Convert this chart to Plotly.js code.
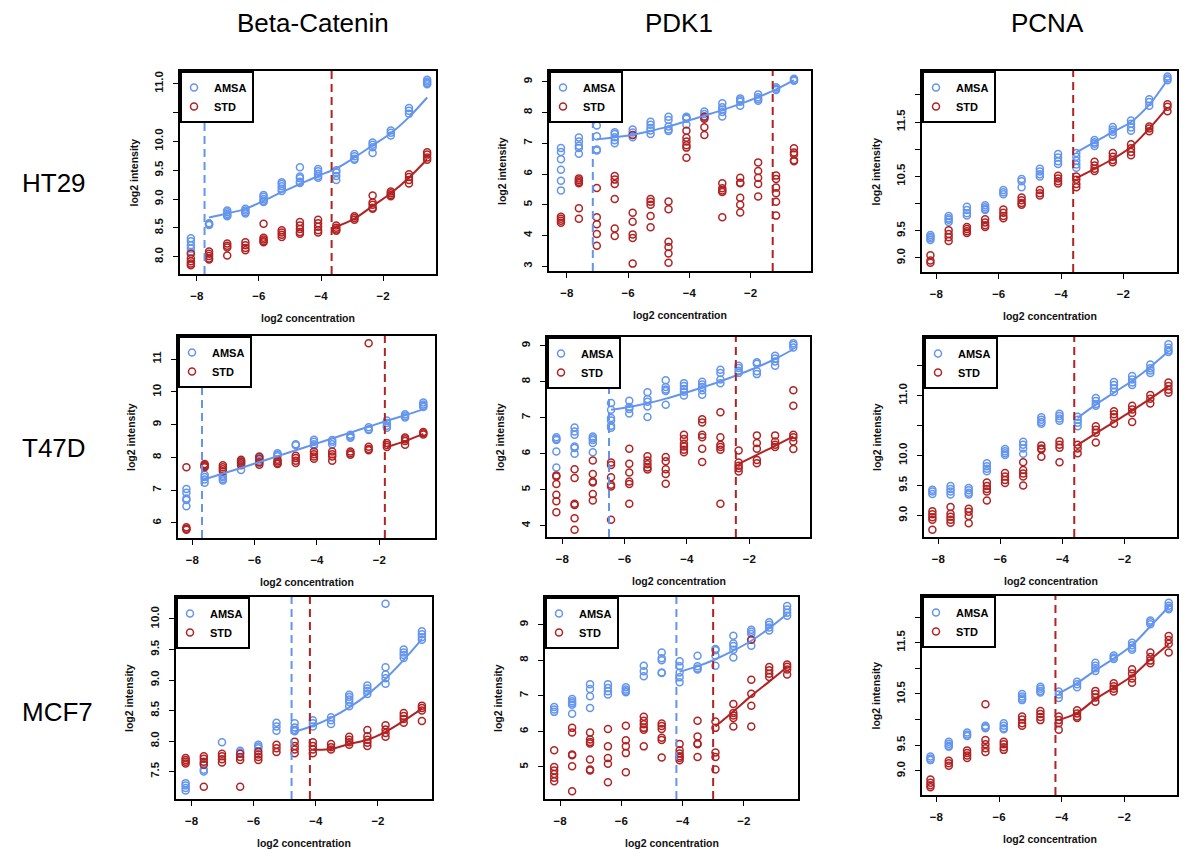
<!DOCTYPE html>
<html>
<head>
<meta charset="utf-8">
<script src="https://cdn.plot.ly/plotly-3.0.1.min.js"></script>
<style>html,body{margin:0;padding:0;background:#fff;}#chart{width:1200px;height:849px;}</style>
</head>
<body>
<div id="chart"></div>
<script>
// ---------------- DATA ----------------
const conc = [-8.19,-7.605,-7.02,-6.435,-5.85,-5.265,-4.68,-4.095,-3.51,-2.925,-2.34,-1.755,-1.17,-0.585];
const columnTitles = ["Beta-Catenin","PDK1","PCNA"];
const rowLabels = ["HT29","T47D","MCF7"];
const seriesNames = ["AMSA","STD"];
const xTickVals = [-8,-6,-4,-2];

// Beta-Catenin / HT29
const bc_ht29_amsa = [[8.32,8.27,8.2,8.14,8.08],[8.55,8.57,8.58,8.56],[8.80,8.77,8.74,8.72,8.70],[8.83,8.80,8.77,8.75],[9.07,9.04,9.00,8.97,8.95],[9.29,9.26,9.22,9.18,9.14],[9.55,9.39,9.36,9.30,9.28],[9.52,9.48,9.44,9.40,9.37],[9.50,9.46,9.40,9.33],[9.78,9.74,9.70,9.68],[9.98,9.94,9.90,9.80],[10.19,10.15,10.10],[10.58,10.53,10.48],[11.07,11.04,11.01,10.99]];
const bc_ht29_std = [[8.05,7.97,7.92,7.88,7.85],[8.09,8.05,8.01,7.97,7.95],[8.23,8.19,8.16,8.02],[8.25,8.20,8.15,8.11],[8.57,8.33,8.30,8.27,8.25],[8.46,8.42,8.38,8.34],[8.60,8.54,8.48,8.43,8.40],[8.64,8.58,8.52,8.46,8.42],[8.54,8.50,8.47,8.45],[8.70,8.67,8.64],[9.06,8.94,8.90,8.85,8.83],[9.13,9.10,9.07,9.05],[9.43,9.38,9.33,9.27],[9.81,9.77,9.72,9.68]];
const bc_ht29_fit_amsa = [8.68,8.75,8.83,8.97,9.12,9.26,9.40,9.53,9.72,9.93,10.14,10.42,10.76];
const bc_ht29_fit_std = [8.52,8.66,8.88,9.10,9.37,9.69];

// PDK1 / HT29
const pdk_ht29_amsa = [[6.85,6.72,6.48,6.14,5.78,5.47],[7.19,7.06,6.92,6.85,6.66],[7.58,7.23,6.80,6.77],[7.36,7.30,7.20,7.10,7.00],[7.45,7.35,7.27,7.20],[7.70,7.60,7.50,7.42,7.30],[7.86,7.76,7.55,7.45,7.40],[7.86,7.83,7.80,7.60],[8.03,7.95,7.88,7.82],[8.30,8.17,8.10,8.02,7.87],[8.46,8.40,8.35,8.22],[8.59,8.50,8.44,8.38],[8.82,8.77,8.73],[9.10,9.06,9.03]];
const pdk_ht29_std = [[4.61,4.55,4.48,4.42],[5.86,5.80,5.74,5.70,4.89,4.55],[5.55,4.60,4.37,4.05,3.67],[5.94,5.82,5.68,5.19,4.23,3.99],[7.27,4.74,4.45,4.04,3.92,3.09],[5.19,5.10,5.00,4.64,4.27],[5.11,4.86,3.80,3.63,3.42,3.12],[7.41,7.18,7.06,6.94,6.86,6.53],[7.86,7.80,7.52,7.27],[5.70,5.54,5.47,5.42,4.60],[5.88,5.72,5.70,5.23,5.00,4.75],[6.38,6.10,5.88,5.68,5.27],[5.95,5.84,5.56,5.38,5.10,4.65],[6.84,6.70,6.64,6.45,6.42]];
const pdk_ht29_fit_amsa = [7.13,7.20,7.28,7.40,7.55,7.72,7.90,8.08,8.28,8.50,8.75,9.05];
const pdk_ht29_fit_std = [];

// PCNA / HT29
const pcna_ht29_amsa = [[9.42,9.39,9.36,9.33],[9.77,9.73,9.70,9.66],[9.94,9.88,9.82,9.78],[9.97,9.93,9.90,9.88],[10.25,10.21,10.17],[10.45,10.41,10.30],[10.64,10.59,10.54,10.50],[10.91,10.85,10.78,10.73],[10.93,10.86,10.79,10.72,10.66],[11.17,11.13,11.10,11.06],[11.41,11.36,11.32,11.26],[11.53,11.47,11.40,11.34],[11.92,11.87,11.80],[12.34,12.30,12.27]];
const pcna_ht29_std = [[9.05,8.95,8.91],[9.51,9.44,9.38,9.31],[9.57,9.53,9.49,9.46],[9.71,9.65,9.60,9.57],[9.89,9.83,9.77,9.73],[10.11,10.06,10.01,9.98],[10.25,10.19,10.15],[10.51,10.46,10.41,10.37],[10.50,10.44,10.36,10.30],[10.77,10.70,10.64,10.60],[10.93,10.86,10.80,10.76],[11.09,11.02,10.95,10.89],[11.42,11.38,11.33],[11.83,11.78,11.70]];
const pcna_ht29_fit_amsa = [10.94,11.13,11.32,11.50,11.82,12.28];
const pcna_ht29_fit_std = [10.47,10.64,10.82,11.04,11.38,11.77];

// Beta-Catenin / T47D
const bc_t47d_amsa = [[7.04,6.92,6.75,6.70,6.51],[7.47,7.40,7.33,7.23],[7.44,7.40,7.34,7.30],[7.90,7.86,7.81,7.62],[8.03,7.98,7.90,7.84],[8.13,8.08,8.04],[8.40,8.37],[8.54,8.48,8.40,8.36],[8.53,8.48,8.40],[8.69,8.64,8.60],[8.92,8.86,8.84],[9.13,9.05,8.97,8.91],[9.32,9.27,9.22],[9.68,9.62,9.57,9.54]];
const bc_t47d_std = [[7.70,5.87,5.82,5.79],[7.80,7.76,7.73,7.70],[7.76,7.70,7.64,7.58],[7.93,7.88,7.82,7.76],[8.02,7.95,7.85,7.78],[7.93,7.88,7.82,7.80],[8.05,7.98,7.90,7.83],[8.18,8.10,8.03,7.96],[8.18,8.10,8.03,7.90],[8.18,8.13,8.08],[11.49,8.33,8.26,8.22],[8.44,8.38,8.32],[8.61,8.56,8.50,8.39],[8.78,8.74,8.70]];
const bc_t47d_fit_amsa = [7.33,7.51,7.68,7.86,8.04,8.22,8.40,8.58,8.76,8.94,9.12,9.29,9.47];
const bc_t47d_fit_std = [8.32,8.50,8.72];

// PDK1 / T47D
const pdk_t47d_amsa = [[6.46,6.41,6.38,6.06,5.62],[6.73,6.62,6.53,6.20,6.16,6.00],[6.48,6.43,6.38,6.30,6.04],[7.41,7.22,6.99,6.92,6.78,6.72],[7.47,7.30,7.24,7.12],[7.71,7.52,7.44,7.31,7.02],[8.04,7.85,7.78,7.74,7.36],[7.96,7.88,7.80,7.72,7.62],[8.00,7.92,7.85,7.76,7.64],[8.33,8.24,8.06,7.96],[8.44,8.38,8.30,8.24],[8.54,8.50,8.29,8.21],[8.72,8.64,8.56,8.44],[9.07,9.02,8.95]];
const pdk_t47d_std = [[5.40,5.37,5.16,4.86,4.68,4.38],[5.57,5.33,4.61,4.58,4.21,3.89],[5.81,5.44,5.23,5.20,4.88,4.70],[5.76,5.69,5.35,5.14,5.09,4.17],[6.14,5.72,5.48,5.23,5.16,4.61],[5.93,5.81,5.71,5.62,5.56],[5.91,5.79,5.57,5.44,5.17],[6.53,6.41,6.28,6.20,6.11,6.04],[6.96,6.87,6.53,6.46,6.14,5.77],[7.15,6.46,6.25,6.19,6.11,4.61],[6.09,5.76,5.67,5.60,5.51],[6.51,6.30,6.14,5.83,5.74],[6.51,6.34,6.25,6.19],[7.76,7.33,6.53,6.46,6.34,6.13]];
const pdk_t47d_fit_amsa = [7.22,7.30,7.40,7.53,7.68,7.84,8.01,8.20,8.40,8.63,8.90];
const pdk_t47d_fit_std = [5.72,5.97,6.22,6.48];

// PCNA / T47D
const pcna_t47d_amsa = [[9.43,9.40,9.36],[9.49,9.44,9.40,9.35],[9.46,9.42,9.38,9.35],[9.87,9.82,9.78,9.74],[10.11,10.07,10.04,10.01],[10.23,10.18,10.12,10.03],[10.64,10.60,10.56,10.53],[10.70,10.66,10.62,10.58],[10.65,10.60,10.55,10.49],[10.96,10.91,10.86,10.83],[11.23,11.18,11.12,11.06],[11.33,11.27,11.22,11.18],[11.52,11.46,11.42,11.38],[11.86,11.80,11.76,11.73]];
const pcna_t47d_std = [[9.07,9.02,8.97,8.93,8.76],[9.14,9.03,8.98,8.93,8.88],[9.11,9.06,8.99,8.87],[9.55,9.49,9.44,9.40,9.25],[9.71,9.65,9.59,9.54],[9.89,9.76,9.70,9.65,9.50],[10.17,10.12,10.10,9.98],[10.24,10.18,10.13,9.89],[10.18,10.12,10.04],[10.49,10.43,10.38,10.22],[10.74,10.69,10.64,10.53],[10.83,10.77,10.71,10.56],[11.01,10.95,10.87],[11.22,11.16,11.10,11.05]];
const pcna_t47d_fit_amsa = [10.63,10.85,11.05,11.25,11.48,11.74];
const pcna_t47d_fit_std = [10.18,10.37,10.56,10.75,10.95,11.16];

// Beta-Catenin / MCF7
const bc_mcf7_amsa = [[7.31,7.27,7.23,7.19],[7.63,7.53,7.50],[7.98],[7.84,7.81],[7.94,7.91,7.88],[8.30,8.24,8.17],[8.29,8.22,8.18,8.16],[8.34,8.29,8.24],[8.39,8.34,8.28],[8.76,8.72,8.68,8.64,8.57],[8.91,8.86,8.82,8.77],[10.25,9.21,9.09,9.03,8.94],[9.50,9.45,9.41,9.36],[9.80,9.75,9.70,9.66]];
const bc_mcf7_std = [[7.72,7.69,7.66,7.63],[7.75,7.71,7.66,7.61,7.25],[7.79,7.75,7.70,7.65],[7.79,7.74,7.69,7.25],[7.83,7.78,7.74,7.69],[7.94,7.88,7.82],[7.99,7.92,7.86,7.80],[7.98,7.92,7.86,7.80],[7.95,7.90,7.86],[8.07,8.02,7.98,7.94],[8.18,8.08,8.02,7.97,7.92],[8.26,8.19,8.13,8.07],[8.46,8.41,8.36,8.30],[8.58,8.54,8.50,8.33]];
const bc_mcf7_fit_amsa = [8.15,8.25,8.38,8.55,8.76,9.02,9.33,9.67];
const bc_mcf7_fit_std = [7.86,7.87,7.95,8.02,8.15,8.33,8.53];

// PDK1 / MCF7
const pdk_mcf7_amsa = [[6.69,6.62,6.55],[6.91,6.85,6.80,6.75,6.50],[7.33,7.19,6.99,6.66],[7.33,7.22,7.13,7.04],[7.24,7.18,7.13,7.10],[7.85,7.69,7.55],[8.22,8.06,8.00,7.66,7.64],[7.97,7.83,7.66,7.52,7.38],[8.13,7.83,7.77,7.74],[8.32,8.28,8.13,7.85],[8.69,8.47,8.40,8.30,8.08],[8.86,8.80,8.74,8.58,8.41],[9.07,9.00,8.92,8.84],[9.53,9.43,9.34,9.25]];
const pdk_mcf7_std = [[5.47,5.00,4.90,4.80,4.70,4.60],[6.10,5.97,5.35,5.33,5.02,4.32],[5.97,5.77,5.70,5.66,5.21,4.93,4.90],[6.07,5.58,5.25,5.09,4.57],[6.16,5.75,5.58,5.39,4.85],[6.41,6.30,6.20,6.10,6.05,5.58],[6.22,6.15,6.07,5.82,5.76,5.27],[5.65,5.47,5.38,5.30,5.25,5.19],[6.30,5.86,5.66,5.64,5.28],[6.28,6.10,5.41,5.28,4.93],[6.77,6.52,6.45,6.38,6.14],[8.58,7.45,7.06,6.72,6.14],[7.81,7.72,7.62,7.53],[7.88,7.82,7.74,7.60]];
const pdk_mcf7_fit_amsa = [7.68,7.83,8.03,8.27,8.55,8.90,9.30];
const pdk_mcf7_fit_std = [6.14,6.56,7.00,7.40,7.81];

// PCNA / MCF7
const pcna_mcf7_amsa = [[9.28,9.24,9.21],[9.57,9.53,9.49,9.47],[9.75,9.71,9.68],[9.88,9.85,9.83],[9.93,9.88,9.83,9.81],[10.50,10.45,10.41,10.38],[10.64,10.60,10.56,10.53],[10.55,10.49,10.42],[10.74,10.69,10.63],[11.11,11.05,11.00,10.95],[11.25,11.21,11.18],[11.50,11.45,11.40,11.36],[11.93,11.90,11.86],[12.28,12.22,12.18,12.15]];
const pcna_mcf7_std = [[8.83,8.77,8.72,8.68],[9.20,9.15,9.10],[9.40,9.35,9.30,9.25],[10.30,9.60,9.52,9.44,9.37],[9.57,9.52,9.46,9.41],[10.06,10.00,9.93,9.88],[10.17,10.11,10.05,9.99],[10.06,9.99,9.93,9.80],[10.18,10.12,10.06,10.03],[10.56,10.50,10.43,10.35],[10.71,10.65,10.60,10.55],[10.98,10.90,10.80,10.72],[11.31,11.22,11.15,11.10],[11.63,11.55,11.48,11.31]];
const pcna_mcf7_fit_amsa = [10.51,10.71,10.96,11.19,11.45,11.82,12.20];
const pcna_mcf7_fit_std = [9.99,10.13,10.40,10.62,10.85,11.17,11.47];

// cut-off concentrations (dashed lines), panel order row by row (null = not shown)
const threshold_amsa = [-7.75,-7.15,null,-7.69,-6.50,null,-4.78,-4.20,null];
const threshold_std  = [-3.66,-1.28,-3.61,-1.82,-2.43,-3.62,-4.19,-3.00,-4.20];

// y tick values / labels for each panel
const yTicks = [
  [[8,8.5,9,9.5,10,10.5,11],["8.0","8.5","9.0","9.5","10.0","","11.0"]],
  [[3,4,5,6,7,8,9],["3","4","5","6","7","8","9"]],
  [[9,9.5,10,10.5,11,11.5,12],["9.0","9.5","","10.5","","11.5",""]],
  [[6,7,8,9,10,11],["6","7","8","9","10","11"]],
  [[4,5,6,7,8,9],["4","5","6","7","8","9"]],
  [[9,9.5,10,10.5,11,11.5],["9.0","9.5","10.0","","11.0",""]],
  [[7.5,8,8.5,9,9.5,10],["7.5","8.0","8.5","9.0","9.5","10.0"]],
  [[5,6,7,8,9],["5","6","7","8","9"]],
  [[9,9.5,10,10.5,11,11.5,12],["9.0","9.5","","10.5","","11.5",""]]
];

// ---------------- LAYOUT / STYLE ----------------
const W = 1200, H = 849;
const BLUE = "#6495ED", RED = "#B22222";
const FONT = "Liberation Sans, Arial, Helvetica, sans-serif";
// pixel boxes of the plot areas [left, right, top, bottom]
const boxes = [[180,436,71,274],[549,811,71,271],[922,1177,71,272],
               [178,435,336,538],[547,810,337,537],[924,1177,337,537],
               [176,432,597,799],[545,798,597,799],[922,1177,596,795]];
const xRanges = [[-8.54,-0.30],[-8.58,-0.03],[-8.46,-0.28],[-8.46,-0.21],[-8.49,-0.05],[-8.46,-0.31],[-8.50,-0.26],[-8.49,-0.23],[-8.46,-0.32]];
const yRanges = [[7.70,11.22],[2.85,9.35],[8.74,12.44],[5.54,11.71],[3.69,9.24],[8.64,11.98],[7.05,10.36],[4.10,9.78],[8.53,12.41]];

const amsaSets = [bc_ht29_amsa,pdk_ht29_amsa,pcna_ht29_amsa,bc_t47d_amsa,pdk_t47d_amsa,pcna_t47d_amsa,bc_mcf7_amsa,pdk_mcf7_amsa,pcna_mcf7_amsa];
const stdSets  = [bc_ht29_std,pdk_ht29_std,pcna_ht29_std,bc_t47d_std,pdk_t47d_std,pcna_t47d_std,bc_mcf7_std,pdk_mcf7_std,pcna_mcf7_std];
const fitAmsaSets = [bc_ht29_fit_amsa,pdk_ht29_fit_amsa,pcna_ht29_fit_amsa,bc_t47d_fit_amsa,pdk_t47d_fit_amsa,pcna_t47d_fit_amsa,bc_mcf7_fit_amsa,pdk_mcf7_fit_amsa,pcna_mcf7_fit_amsa];
const fitStdSets  = [bc_ht29_fit_std,pdk_ht29_fit_std,pcna_ht29_fit_std,bc_t47d_fit_std,pdk_t47d_fit_std,pcna_t47d_fit_std,bc_mcf7_fit_std,pdk_mcf7_fit_std,pcna_mcf7_fit_std];

function flatten(groups){
  const xs=[], ys=[];
  groups.forEach((g,i)=>g.forEach(v=>{xs.push(conc[i]); ys.push(v);}));
  return {xs, ys};
}

const traces = [], shapes = [], annotations = [];
const layout = {
  width: W, height: H,
  margin: {l:0,r:0,t:0,b:0},
  paper_bgcolor: "#fff", plot_bgcolor: "#fff",
  font: {family: FONT, color: "#000"},
  showlegend: true
};

for (let i = 0; i < 9; i++) {
  const s = i === 0 ? "" : String(i+1);
  const [L,R,T,B] = boxes[i];
  const xa = "x"+s, ya = "y"+s;
  const legName = "legend"+s;
  const axCommon = {
    showgrid:false, zeroline:false, showline:true, mirror:true,
    linecolor:"#000", linewidth:2,
    ticks:"outside", ticklen:5, tickwidth:1, tickcolor:"#000",
    tickfont:{family:FONT, size:11.5, weight:"bold", color:"#111"},
    ticklabelstandoff:5, fixedrange:true
  };
  layout["xaxis"+s] = Object.assign({}, axCommon, {
    domain:[L/W, R/W], anchor:ya, range:xRanges[i],
    tickmode:"array", tickvals:xTickVals
  });
  layout["yaxis"+s] = Object.assign({}, axCommon, {
    domain:[1-B/H, 1-T/H], anchor:xa, range:yRanges[i],
    tickmode:"array", tickvals:yTicks[i][0], ticktext:yTicks[i][1], tickangle:-90
  });
  layout[legName] = {
    x:L/W, y:1-T/H, xanchor:"left", yanchor:"top",
    bgcolor:"#fff", bordercolor:"#000", borderwidth:2,
    font:{family:FONT, size:11, weight:"bold", color:"#000"},
    itemwidth:30, tracegroupgap:0, indentation:-8
  };

  const a = flatten(amsaSets[i]), b = flatten(stdSets[i]);
  traces.push({x:a.xs, y:a.ys, xaxis:xa, yaxis:ya, type:"scatter", mode:"markers", name:seriesNames[0], legend:legName,
    marker:{symbol:"circle-open", size:7, color:BLUE, line:{width:1.5, color:BLUE}}, hoverinfo:"skip"});
  traces.push({x:b.xs, y:b.ys, xaxis:xa, yaxis:ya, type:"scatter", mode:"markers", name:seriesNames[1], legend:legName,
    marker:{symbol:"circle-open", size:7, color:RED, line:{width:1.5, color:RED}}, hoverinfo:"skip"});
  const fa = fitAmsaSets[i], fs = fitStdSets[i];
  if (fa.length) traces.push({x:conc.slice(conc.length-fa.length), y:fa, xaxis:xa, yaxis:ya, type:"scatter", mode:"lines",
    line:{color:BLUE, width:2, shape:"spline"}, showlegend:false, hoverinfo:"skip"});
  if (fs.length) traces.push({x:conc.slice(conc.length-fs.length), y:fs, xaxis:xa, yaxis:ya, type:"scatter", mode:"lines",
    line:{color:RED, width:2, shape:"spline"}, showlegend:false, hoverinfo:"skip"});

  if (threshold_amsa[i] !== null) shapes.push({type:"line", xref:xa, yref:ya+" domain", x0:threshold_amsa[i], x1:threshold_amsa[i], y0:0, y1:1,
    line:{color:BLUE, width:2, dash:"8px,5px"}});
  if (threshold_std[i] !== null) shapes.push({type:"line", xref:xa, yref:ya+" domain", x0:threshold_std[i], x1:threshold_std[i], y0:0, y1:1,
    line:{color:RED, width:2, dash:"8px,5px"}});

  annotations.push({text:"log2 concentration", xref:xa+" domain", yref:ya+" domain", x:0.5, y:0,
    xanchor:"center", yanchor:"top", yshift:-36, showarrow:false,
    font:{family:FONT, size:10.5, weight:"bold", color:"#111"}});
  annotations.push({text:"log2 intensity", xref:xa+" domain", yref:ya+" domain", x:0, y:0.5,
    xanchor:"right", yanchor:"middle", xshift:-39, textangle:-90, showarrow:false,
    font:{family:FONT, size:10.5, weight:"bold", color:"#111"}});
}

const colX = [313, 679, 1047];
columnTitles.forEach((t,j)=>annotations.push({text:t, xref:"paper", yref:"paper", x:colX[j]/W, y:1-23/H,
  xanchor:"center", yanchor:"middle", showarrow:false, font:{family:FONT, size:26, color:"#000"}}));
const rowY = [183, 448, 712];
rowLabels.forEach((t,j)=>annotations.push({text:t, xref:"paper", yref:"paper", x:20/W, y:1-rowY[j]/H,
  xanchor:"left", yanchor:"middle", showarrow:false, font:{family:FONT, size:26, color:"#000"}}));

layout.shapes = shapes;
layout.annotations = annotations;

Plotly.newPlot("chart", traces, layout, {staticPlot:true, displayModeBar:false});
</script>
</body>
</html>
